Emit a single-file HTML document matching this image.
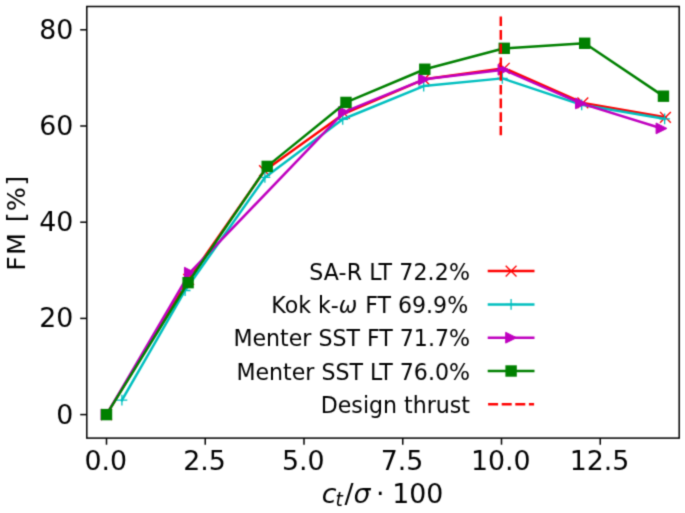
<!DOCTYPE html>
<html lang="en"><head><meta charset="utf-8"><title>FM vs thrust</title>
<style>html,body{margin:0;padding:0;background:#fff}svg{display:block}</style></head>
<body>
<svg width="685" height="513" viewBox="0 0 685 513" font-family="'DejaVu Sans','Liberation Sans',sans-serif" fill="#000">
<filter id="soft" x="0" y="0" width="685" height="513" filterUnits="userSpaceOnUse" color-interpolation-filters="sRGB"><feConvolveMatrix order="3" kernelMatrix="0.028 0.111 0.028 0.111 0.444 0.111 0.028 0.111 0.028" divisor="1" edgeMode="duplicate" preserveAlpha="true"/></filter>
<g filter="url(#soft)">
<rect width="685" height="513" fill="#fff"/>
<defs><clipPath id="ax"><rect x="86.8" y="6.5" width="592.4000000000001" height="431.6"/></clipPath></defs>
<g clip-path="url(#ax)">
<path d="M106.50 414.60 L188.66 279.44 L264.50 170.73 L344.29 113.49 L424.08 79.34 L504.26 68.28 L582.87 102.91 L665.43 117.34" fill="none" stroke="#ff0000" stroke-width="2.5" stroke-linejoin="round" stroke-linecap="square"/>
<path d="M101.10 409.20L111.90 420.00M101.10 420.00L111.90 409.20" stroke="#ff0000" stroke-width="1.3" fill="none"/>
<path d="M183.26 274.04L194.06 284.84M183.26 284.84L194.06 274.04" stroke="#ff0000" stroke-width="1.3" fill="none"/>
<path d="M259.10 165.33L269.90 176.13M259.10 176.13L269.90 165.33" stroke="#ff0000" stroke-width="1.3" fill="none"/>
<path d="M338.89 108.09L349.69 118.89M338.89 118.89L349.69 108.09" stroke="#ff0000" stroke-width="1.3" fill="none"/>
<path d="M418.68 73.94L429.48 84.74M418.68 84.74L429.48 73.94" stroke="#ff0000" stroke-width="1.3" fill="none"/>
<path d="M498.87 62.88L509.66 73.68M498.87 73.68L509.66 62.88" stroke="#ff0000" stroke-width="1.3" fill="none"/>
<path d="M577.47 97.51L588.27 108.31M577.47 108.31L588.27 97.51" stroke="#ff0000" stroke-width="1.3" fill="none"/>
<path d="M660.03 111.94L670.83 122.74M660.03 122.74L670.83 111.94" stroke="#ff0000" stroke-width="1.3" fill="none"/>
<path d="M121.91 400.17 L185.11 290.50 L264.89 177.47 L342.71 119.27 L423.69 86.08 L502.29 78.38 L581.68 104.84 L664.63 118.79" fill="none" stroke="#00bfbf" stroke-width="2.5" stroke-linejoin="round" stroke-linecap="square"/>
<path d="M116.50 400.17L127.31 400.17M121.91 394.77L121.91 405.57" stroke="#00bfbf" stroke-width="1.3" fill="none"/>
<path d="M179.71 290.50L190.51 290.50M185.11 285.10L185.11 295.90" stroke="#00bfbf" stroke-width="1.3" fill="none"/>
<path d="M259.50 177.47L270.29 177.47M264.89 172.07L264.89 182.87" stroke="#00bfbf" stroke-width="1.3" fill="none"/>
<path d="M337.31 119.27L348.11 119.27M342.71 113.87L342.71 124.67" stroke="#00bfbf" stroke-width="1.3" fill="none"/>
<path d="M418.29 86.08L429.08 86.08M423.69 80.68L423.69 91.48" stroke="#00bfbf" stroke-width="1.3" fill="none"/>
<path d="M496.89 78.38L507.69 78.38M502.29 72.98L502.29 83.78" stroke="#00bfbf" stroke-width="1.3" fill="none"/>
<path d="M576.28 104.84L587.08 104.84M581.68 99.44L581.68 110.24" stroke="#00bfbf" stroke-width="1.3" fill="none"/>
<path d="M659.24 118.79L670.03 118.79M664.63 113.39L664.63 124.19" stroke="#00bfbf" stroke-width="1.3" fill="none"/>
<path d="M106.50 414.60 L189.84 272.71 L343.89 112.05 L424.08 79.34 L503.48 69.72 L580.89 103.39 L661.48 128.41" fill="none" stroke="#bf00bf" stroke-width="2.5" stroke-linejoin="round" stroke-linecap="square"/>
<path d="M101.10 409.20L111.90 414.60L101.10 420.00Z" fill="#bf00bf" stroke="#bf00bf" stroke-width="1"/>
<path d="M184.44 267.31L195.25 272.71L184.44 278.11Z" fill="#bf00bf" stroke="#bf00bf" stroke-width="1"/>
<path d="M338.50 106.65L349.29 112.05L338.50 117.45Z" fill="#bf00bf" stroke="#bf00bf" stroke-width="1"/>
<path d="M418.68 73.94L429.48 79.34L418.68 84.74Z" fill="#bf00bf" stroke="#bf00bf" stroke-width="1"/>
<path d="M498.08 64.32L508.88 69.72L498.08 75.12Z" fill="#bf00bf" stroke="#bf00bf" stroke-width="1"/>
<path d="M575.50 97.99L586.29 103.39L575.50 108.79Z" fill="#bf00bf" stroke="#bf00bf" stroke-width="1"/>
<path d="M656.08 123.01L666.88 128.41L656.08 133.81Z" fill="#bf00bf" stroke="#bf00bf" stroke-width="1"/>
<path d="M106.50 414.60 L188.11 282.66 L267.19 166.40 L345.99 102.43 L424.79 69.24 L504.26 48.32 L584.69 43.27 L663.45 96.18" fill="none" stroke="#008000" stroke-width="2.5" stroke-linejoin="round" stroke-linecap="square"/>
<rect x="100.80" y="408.90" width="11.40" height="11.40" fill="#008000"/>
<rect x="182.41" y="276.96" width="11.40" height="11.40" fill="#008000"/>
<rect x="261.49" y="160.70" width="11.40" height="11.40" fill="#008000"/>
<rect x="340.29" y="96.73" width="11.40" height="11.40" fill="#008000"/>
<rect x="419.09" y="63.54" width="11.40" height="11.40" fill="#008000"/>
<rect x="498.56" y="42.62" width="11.40" height="11.40" fill="#008000"/>
<rect x="578.99" y="37.57" width="11.40" height="11.40" fill="#008000"/>
<rect x="657.75" y="90.48" width="11.40" height="11.40" fill="#008000"/>
<path d="M500.8 16.4V135.2" stroke="#ff0000" stroke-width="2.5" stroke-dasharray="9.6 4.1" fill="none"/>
</g>
<rect x="86.8" y="6.5" width="592.4000000000001" height="431.6" fill="none" stroke="#000" stroke-width="1.5"/>
<path d="M106.50 438.1V444.70000000000005" stroke="#000" stroke-width="1.5"/>
<text x="105.80" y="470.3" font-size="26.8" text-anchor="middle">0.0</text>
<path d="M205.25 438.1V444.70000000000005" stroke="#000" stroke-width="1.5"/>
<text x="204.55" y="470.3" font-size="26.8" text-anchor="middle">2.5</text>
<path d="M304.00 438.1V444.70000000000005" stroke="#000" stroke-width="1.5"/>
<text x="303.30" y="470.3" font-size="26.8" text-anchor="middle">5.0</text>
<path d="M402.75 438.1V444.70000000000005" stroke="#000" stroke-width="1.5"/>
<text x="402.05" y="470.3" font-size="26.8" text-anchor="middle">7.5</text>
<path d="M501.50 438.1V444.70000000000005" stroke="#000" stroke-width="1.5"/>
<text x="500.80" y="470.3" font-size="26.8" text-anchor="middle">10.0</text>
<path d="M600.25 438.1V444.70000000000005" stroke="#000" stroke-width="1.5"/>
<text x="599.55" y="470.3" font-size="26.8" text-anchor="middle">12.5</text>
<path d="M86.8 414.60H80.2" stroke="#000" stroke-width="1.5"/>
<text x="73.4" y="423.60" font-size="26.8" text-anchor="end">0</text>
<path d="M86.8 318.40H80.2" stroke="#000" stroke-width="1.5"/>
<text x="73.4" y="327.40" font-size="26.8" text-anchor="end">20</text>
<path d="M86.8 222.20H80.2" stroke="#000" stroke-width="1.5"/>
<text x="73.4" y="231.20" font-size="26.8" text-anchor="end">40</text>
<path d="M86.8 126.00H80.2" stroke="#000" stroke-width="1.5"/>
<text x="73.4" y="135.00" font-size="26.8" text-anchor="end">60</text>
<path d="M86.8 29.80H80.2" stroke="#000" stroke-width="1.5"/>
<text x="73.4" y="38.80" font-size="26.8" text-anchor="end">80</text>
<text transform="translate(25.0 222.7) rotate(-90)" font-size="25.4" letter-spacing="1.3" text-anchor="middle">FM [%]</text>
<text y="503" font-size="26.8"><tspan x="321.8" font-style="oblique">c</tspan><tspan x="335.4" font-style="oblique" font-size="18.76" dy="3.2">t</tspan><tspan x="344.6" dy="-3.2">/</tspan><tspan x="353.4" font-style="oblique">σ</tspan><tspan x="376.0">·</tspan><tspan x="392.2">100</tspan></text>
<text x="470.0" y="279.60" font-size="22.1" text-anchor="end" letter-spacing="0.1">SA-R LT 72.2%</text>
<path d="M487.7 271.10H534.5" stroke="#ff0000" stroke-width="2.5"/>
<path d="M505.70 265.70L516.50 276.50M505.70 276.50L516.50 265.70" stroke="#ff0000" stroke-width="1.3" fill="none"/>
<text x="468.2" y="312.90" font-size="22.1" text-anchor="end">Kok k-<tspan font-style="oblique">ω</tspan><tspan dx="0.8"> FT 69.9%</tspan></text>
<path d="M487.7 304.40H534.5" stroke="#00bfbf" stroke-width="2.5"/>
<path d="M505.70 304.40L516.50 304.40M511.10 299.00L511.10 309.80" stroke="#00bfbf" stroke-width="1.3" fill="none"/>
<text x="470.0" y="346.20" font-size="22.1" text-anchor="end">Menter SST FT 71.7%</text>
<path d="M487.7 337.70H534.5" stroke="#bf00bf" stroke-width="2.5"/>
<path d="M505.70 332.30L516.50 337.70L505.70 343.10Z" fill="#bf00bf" stroke="#bf00bf" stroke-width="1"/>
<text x="470.0" y="379.50" font-size="22.1" text-anchor="end">Menter SST LT 76.0%</text>
<path d="M487.7 371.00H534.5" stroke="#008000" stroke-width="2.5"/>
<rect x="505.40" y="365.30" width="11.40" height="11.40" fill="#008000"/>
<text x="470.0" y="412.80" font-size="22.1" text-anchor="end">Design thrust</text>
<path d="M488.1 404.30H534.1" stroke="#ff0000" stroke-width="2.5" stroke-dasharray="10 3.6"/>
</g></svg>
</body></html>
